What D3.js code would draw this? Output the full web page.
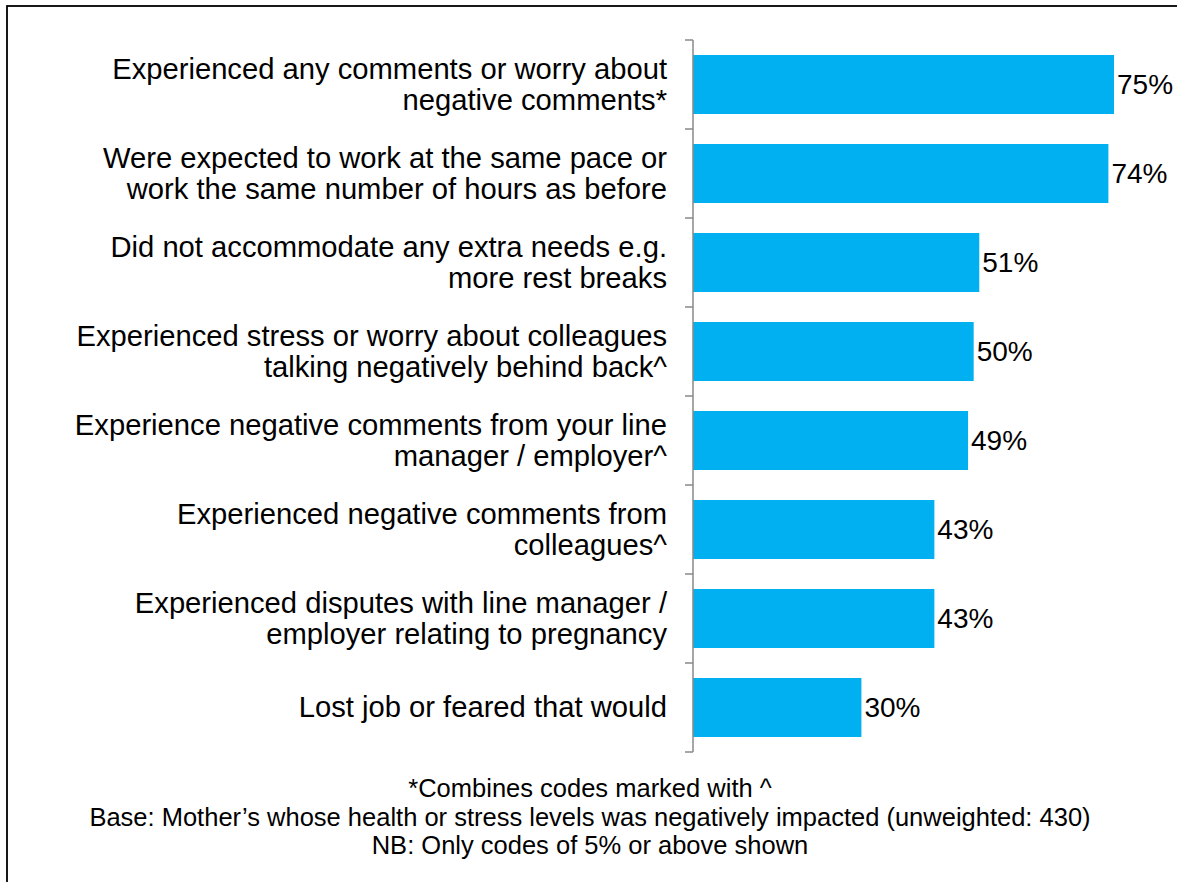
<!DOCTYPE html>
<html>
<head>
<meta charset="utf-8">
<script src="https://cdn.jsdelivr.net/npm/d3@7"></script>
<style>
  html, body { margin: 0; padding: 0; background: #fff; }
  svg { display: block; }
  text { font-family: "Liberation Sans", Arial, sans-serif; fill: #000; }
</style>
</head>
<body>
<svg id="chart" width="1177" height="882"></svg>
<script>
const categories = [
  ["Experienced any comments or worry about", "negative comments*"],
  ["Were expected to work at the same pace or", "work the same number of hours as before"],
  ["Did not accommodate any extra needs e.g.", "more rest breaks"],
  ["Experienced stress or worry about colleagues", "talking negatively behind back^"],
  ["Experience negative comments from your line", "manager / employer^"],
  ["Experienced negative comments from", "colleagues^"],
  ["Experienced disputes with line manager /", "employer relating to pregnancy"],
  ["Lost job or feared that would"]
];
const values = [75, 74, 51, 50, 49, 43, 43, 30];
const valueLabels = ["75%", "74%", "51%", "50%", "49%", "43%", "43%", "30%"];
const footnotes = [
  "*Combines codes marked with ^",
  "Base: Mother\u2019s whose health or stress levels was negatively impacted (unweighted: 430)",
  "NB: Only codes of 5% or above shown"
];

(function () {
const svg = d3.select("#chart");
const axisX = 693, plotTop = 40, plotBottom = 752;

svg.append("rect")
  .attr("x", 7).attr("y", 6).attr("width", 1200).attr("height", 900)
  .attr("fill", "none").attr("stroke", "#000").attr("stroke-width", 1.8);

const idx = d3.range(categories.length);
const y = d3.scaleBand().domain(idx).range([plotTop, plotBottom]).paddingInner(0.337).paddingOuter(0.1685);
const yTicks = d3.scaleBand().domain(idx).range([plotTop, plotBottom]);
const x = d3.scaleLinear().domain([0, 75]).range([axisX, 1114]);

svg.selectAll("rect.bar").data(values).join("rect")
  .attr("class", "bar")
  .attr("x", x(0))
  .attr("y", (d, i) => y(i))
  .attr("width", d => x(d) - x(0))
  .attr("height", y.bandwidth())
  .attr("fill", "#00B0F0");

const axisG = svg.append("g").attr("stroke", "#898989").attr("stroke-width", 1.5);
axisG.append("line").attr("x1", axisX).attr("x2", axisX).attr("y1", plotTop).attr("y2", plotBottom);
const bounds = idx.map(i => yTicks(i)).concat([plotBottom]);
axisG.selectAll("line.tick").data(bounds).join("line")
  .attr("class", "tick")
  .attr("x1", axisX - 8).attr("x2", axisX)
  .attr("y1", d => d).attr("y2", d => d);

const fs = 29.2, lh = 31;
categories.forEach((lines, i) => {
  const cy = y(i) + y.bandwidth() / 2;
  const n = lines.length;
  const t = svg.append("text")
    .attr("text-anchor", "end")
    .attr("font-size", fs);
  lines.forEach((ln, j) => {
    t.append("tspan")
      .attr("x", 667)
      .attr("y", cy + (j - (n - 1) / 2) * lh + fs * 0.33)
      .text(ln);
  });
});

svg.selectAll("text.val").data(values).join("text")
  .attr("class", "val")
  .attr("x", d => x(d) + 3)
  .attr("y", (d, i) => y(i) + y.bandwidth() / 2 + 28 * 0.355)
  .attr("font-size", 28)
  .text((d, i) => valueLabels[i]);

svg.selectAll("text.foot").data(footnotes).join("text")
  .attr("class", "foot")
  .attr("x", 590)
  .attr("y", (d, i) => 797 + i * 28.5)
  .attr("text-anchor", "middle")
  .attr("font-size", 25.5)
  .text(d => d);
})();
</script>
</body>
</html>
